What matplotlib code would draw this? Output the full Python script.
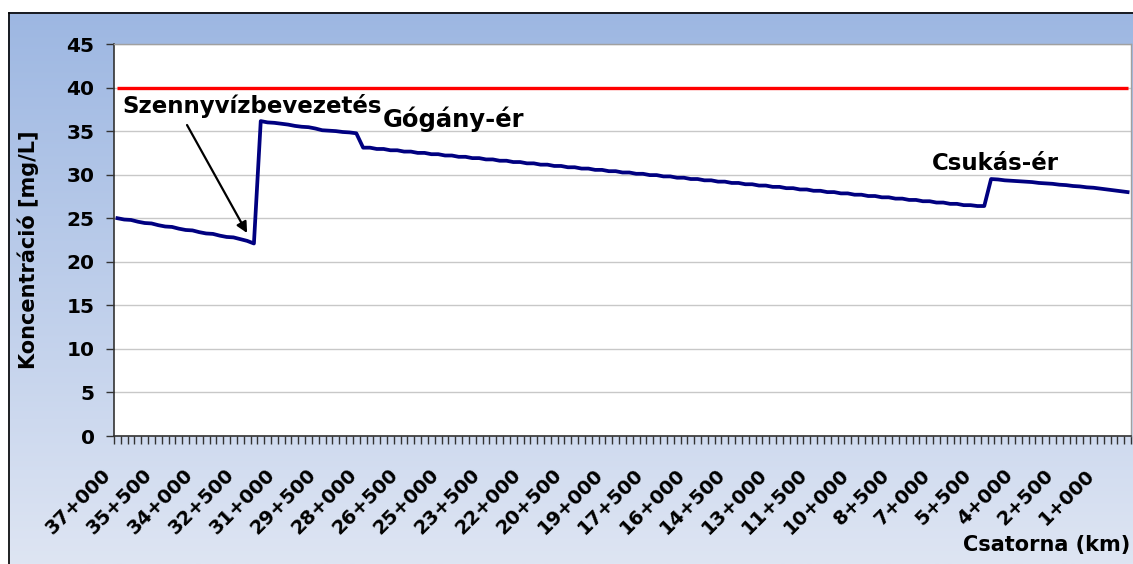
import matplotlib
matplotlib.use("Agg")
import matplotlib.pyplot as plt
import matplotlib.transforms as mtransforms
from matplotlib.lines import Line2D
import numpy as np

# Concentration along the canal, one value per 250 m from 37+000 to 0+000
koncentracio = [
    # 37+000 .. 32+000
    25.0, 24.85, 24.8, 24.6, 24.45, 24.4, 24.2, 24.05, 24.0, 23.8, 23.65,
    23.6, 23.4, 23.25, 23.2, 23.0, 22.85, 22.8, 22.6, 22.4, 22.1,
    # after the wastewater inlet
    36.15, 36.0, 35.95, 35.85, 35.75, 35.6, 35.5, 35.45, 35.3, 35.1,
    35.05, 35.0, 34.9, 34.85, 34.75,
    # after Gógány-ér
    33.1, 33.1, 32.95, 32.95, 32.8, 32.8, 32.65, 32.65, 32.5, 32.5,
    32.35, 32.35, 32.2, 32.2, 32.05, 32.05, 31.9, 31.9, 31.75, 31.75,
    31.6, 31.6, 31.45, 31.45, 31.3, 31.3, 31.15, 31.15, 31.0, 31.0,
    30.85, 30.85, 30.7, 30.7, 30.55, 30.55, 30.4, 30.4, 30.25, 30.25,
    30.1, 30.1, 29.95, 29.95, 29.8, 29.8, 29.65, 29.65, 29.5, 29.5,
    29.35, 29.35, 29.2, 29.2, 29.05, 29.05, 28.9, 28.9, 28.75, 28.75,
    28.6, 28.6, 28.45, 28.45, 28.3, 28.3, 28.15, 28.15, 28.0, 28.0,
    27.85, 27.85, 27.7, 27.7, 27.55, 27.55, 27.4, 27.4, 27.25, 27.25,
    27.1, 27.1, 26.95, 26.95, 26.8, 26.8, 26.65, 26.65, 26.5, 26.5,
    26.4, 26.4,
    # after Csukás-ér
    29.5, 29.45, 29.35, 29.3, 29.25, 29.2, 29.15, 29.05, 29.0, 28.95,
    28.85, 28.8, 28.7, 28.65, 28.55, 28.5, 28.4, 28.3, 28.2, 28.1, 28.0,
]
hatarertek = 40

km_labels = ['37+000', '35+500', '34+000', '32+500', '31+000', '29+500',
             '28+000', '26+500', '25+000', '23+500', '22+000', '20+500',
             '19+000', '17+500', '16+000', '14+500', '13+000', '11+500',
             '10+000', '8+500', '7+000', '5+500', '4+000', '2+500', '1+000']
label_step = 6
y_ticks = [0, 5, 10, 15, 20, 25, 30, 35, 40, 45]

W, H = 1133, 564
fig = plt.figure(figsize=(W / 100, H / 100), dpi=100)
plt.rcParams['font.family'] = ['DejaVu Sans']

# gradient chart-area background with a frame on the left/top
bg = fig.add_axes([8 / W, 0, 1 - 8 / W, 1 - 12 / H])
top = np.array([157, 183, 226]) / 255
bot = np.array([222, 229, 243]) / 255
t = np.linspace(0, 1, 256)[:, None]
grad = top + (bot - top) * t
bg.imshow(grad[:, None, :], aspect='auto', extent=[0, 1, 0, 1])
bg.axis('off')
fig.add_artist(Line2D([8.5 / W, 8.5 / W], [0, 1 - 12.5 / H], color='black', lw=1.2,
                      transform=fig.transFigure))
fig.add_artist(Line2D([8.5 / W, 1], [1 - 12.5 / H, 1 - 12.5 / H], color='black', lw=1.2,
                      transform=fig.transFigure))

ax = fig.add_axes([114 / W, 1 - 436 / H, (1131 - 114) / W, (436 - 44) / H])
ax.set_facecolor('white')

n = len(koncentracio)
x = np.arange(n)
ax.hlines(hatarertek, 0, n - 1, color='#FF0000', lw=2.4, zorder=3)
ax.plot(x, koncentracio, color='#000080', lw=2.7, zorder=4)

ax.set_xlim(-0.5, n - 0.5)
ax.set_ylim(0, 45)
ax.set_yticks(y_ticks)
ax.yaxis.grid(True, color='#C8C8C8', lw=1)
ax.set_axisbelow(True)

ax.set_xticks(x[::label_step])
ax.set_xticklabels(km_labels, fontsize=14, fontweight='bold')
ax.set_xticks(np.arange(-0.5, n, 1), minor=True)
ax.tick_params(axis='x', which='major', length=0, pad=26)
ax.tick_params(axis='x', which='minor', length=6, width=1, direction='out', color='#333333')
ax.tick_params(axis='y', length=6, width=1, pad=8, labelsize=14.5, color='#333333')
for lab in ax.get_yticklabels():
    lab.set_fontweight('bold')
off = mtransforms.ScaledTranslation(-9 / 100, 0, fig.dpi_scale_trans)
for lab in ax.get_xticklabels():
    lab.set_rotation(45)
    lab.set_ha('right')
    lab.set_va('center')
    lab.set_rotation_mode('anchor')
    lab.set_transform(lab.get_transform() + off)

for side in ['left', 'bottom']:
    ax.spines[side].set_color('#333333')
    ax.spines[side].set_linewidth(1.2)
for side in ['top', 'right']:
    ax.spines[side].set_color('#A0A0A0')
    ax.spines[side].set_linewidth(1)

ax.set_ylabel('Koncentráció [mg/L]', fontsize=15, fontweight='bold')
ax.yaxis.label.set_va('center')
ax.yaxis.set_label_coords(-0.0846, 0.474)
fig.text(1130 / W, 1 - 545 / H, 'Csatorna (km)', ha='right', va='center',
         fontsize=15, fontweight='bold')

ax.text(0.67, 37.1, 'Szennyvízbevezetés', fontsize=16.5, fontweight='bold',
        ha='left', va='baseline', zorder=5)
ax.text(38.9, 35.5, 'Gógány-ér', fontsize=17.5, fontweight='bold',
        ha='left', va='baseline', zorder=5)
ax.text(119.3, 30.55, 'Csukás-ér', fontsize=16.5, fontweight='bold',
        ha='left', va='baseline', zorder=5)
ax.annotate('', xy=(19.0, 23.3), xytext=(10.2, 35.7),
            arrowprops=dict(arrowstyle='-|>', color='black', lw=1.6,
                            mutation_scale=16, shrinkA=0, shrinkB=0), zorder=5)

fig.savefig('out.png', dpi=100)
